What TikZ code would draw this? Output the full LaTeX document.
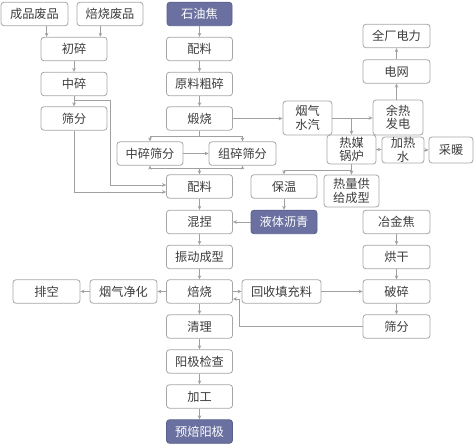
\documentclass[tikz,border=0pt]{standalone}
\usepackage{fontspec}
\setmainfont{Noto Sans CJK SC}
\usetikzlibrary{arrows.meta}
\definecolor{boxc}{HTML}{A6A6A6}
\definecolor{linec}{HTML}{A0A0A0}
\definecolor{txtc}{HTML}{3C3C3C}
\definecolor{fillc}{HTML}{6A71A0}
\definecolor{filld}{HTML}{5A6090}
\tikzset{
  box/.style={draw=boxc, rounded corners=3pt, line width=0.8pt, minimum width=66pt, minimum height=23.5pt, inner sep=0pt, text=txtc, font=\fontsize{12.2}{13.5}\selectfont, align=center},
  dbox/.style={box, fill=fillc, draw=filld, text=white},
  arr/.style={draw=linec, line width=0.7pt, -{Stealth[length=4pt,width=3.6pt]}},
  ln/.style={draw=linec, line width=0.7pt}
}
\begin{document}
\begin{tikzpicture}[x=1pt,y=-1pt]
\useasboundingbox (0,0) rectangle (474,446);
% left column
\node[box, minimum width=67pt] (cp) at (34.5,14) {成品废品};
\node[box] (bp) at (110,14) {焙烧废品};
\node[box] (cs) at (74,49) {初碎};
\node[box] (zs) at (74,84) {中碎};
\node[box] (sf1) at (74,118.5) {筛分};
% main column
\node[dbox, minimum width=65pt] (syj) at (199.5,14) {石油焦};
\node[box] (pl1) at (199.5,49) {配料};
\node[box] (ylcs) at (199.5,84) {原料粗碎};
\node[box] (ds) at (199.5,118.5) {煅烧};
\node[box] (zssf) at (150,153.5) {中碎筛分};
\node[box, minimum width=67pt] (zusf) at (242.5,153.5) {组碎筛分};
\node[box] (pl2) at (199.5,186.5) {配料};
\node[box] (hn) at (199.5,222) {混捏};
\node[box] (zdcx) at (199.5,257) {振动成型};
\node[box] (bs) at (199.5,291.5) {焙烧};
\node[box] (ql) at (199.5,326.5) {清理};
\node[box] (yjjc) at (199.5,361.5) {阳极检查};
\node[box] (jg) at (199.5,396.5) {加工};
\node[dbox] (ybyj) at (199.5,431.5) {预焙阳极};
\node[box, minimum width=67pt] (pk) at (46.5,291.5) {排空};
\node[box, minimum width=67pt] (yqjh) at (123.5,291.5) {烟气净化};
% right side
\node[box, minimum width=79pt] (hstcl) at (281.5,291.5) {回收填充料};
\node[box, minimum width=67pt] (ps) at (396.5,291.5) {破碎};
\node[box, minimum width=67pt] (sf2) at (396.5,326.5) {筛分};
\node[box, minimum width=67pt] (hg) at (396.5,257) {烘干};
\node[box, minimum width=67pt] (yjj) at (396.5,222) {冶金焦};
\node[box, minimum width=49pt, minimum height=34pt] (yq) at (307.5,118) {烟气\\水汽};
\node[box, minimum width=50pt, minimum height=35pt] (yr) at (398,117.5) {余热\\发电};
\node[box, minimum width=67pt] (dw) at (396.5,71.5) {电网};
\node[box, minimum width=67pt] (qc) at (396.5,36) {全厂电力};
\node[box, minimum width=49pt, minimum height=29pt] (rm) at (351.5,149.5) {热媒\\锅炉};
\node[box, minimum width=42pt, minimum height=26pt] (jrs) at (403,150) {加热\\水};
\node[box, minimum width=44pt, minimum height=26pt] (cn) at (451,150) {采暖};
\node[box] (bw) at (284,186.5) {保温};
\node[box, minimum width=55pt, minimum height=32pt] (rlgj) at (351.5,191) {热量供\\给成型};
\node[dbox] (ltlq) at (284,222) {液体沥青};
% coordinates
\coordinate (zsb) at (74,100);
\coordinate (ds1) at (199.5,136.5);
\coordinate (m1) at (199.5,168.5);
\coordinate (rm1) at (351.5,170);
% left connectors
\draw[arr] ([xshift=6pt]cs.north west |- cp.south) -- ([xshift=6pt]cs.north west);
\draw[arr] ([xshift=-7pt]cs.north east |- bp.south) -- ([xshift=-7pt]cs.north east);
\draw[arr] (cs) -- (zs);
\draw[arr] (zs) -- (sf1);
\draw[arr] (zsb) -| ([xshift=-56pt,yshift=1.5pt]pl2.west) -- ([yshift=1.5pt]pl2.west);
\draw[arr] (sf1.south) |- ([yshift=-5.5pt]pl2.west);
% main column connectors
\draw[arr] (syj) -- (pl1);
\draw[arr] (pl1) -- (ylcs);
\draw[arr] (ylcs) -- (ds);
\draw[ln] (ds.south) -- (ds1);
\draw[arr] (ds1) -| (zssf.north);
\draw[arr] (ds1) -| (zusf.north);
\draw[arr] (zssf) -- (zusf);
\draw[arr] (m1) -| (zssf.south);
\draw[arr] (m1) -| (zusf.south);
\draw[arr] (m1) -- (pl2.north);
\draw[arr] (pl2) -- (hn);
\draw[arr] (hn) -- (zdcx);
\draw[arr] (zdcx) -- (bs);
\draw[arr] (bs) -- (ql);
\draw[arr] (ql) -- (yjjc);
\draw[arr] (yjjc) -- (jg);
\draw[arr] (jg) -- (ybyj);
\draw[arr] (bs) -- (yqjh);
\draw[arr] (yqjh) -- (pk);
\draw[arr] (ltlq) -- (hn);
% right connectors
\draw[arr] (bs.east) -- (hstcl.west);
\draw[arr] (hstcl) -- (ps);
\draw[arr] (yjj) -- (hg);
\draw[arr] (hg) -- (ps);
\draw[arr] (ps) -- (sf2);
\draw[arr] (sf2.west) -| ([xshift=6pt,yshift=-7.5pt]bs.east) -- ([yshift=-7.5pt]bs.east);
\draw[arr] (ds.east) -- (ds.east -| yq.west);
\draw[arr] (yq.east) -- (yq.east -| yr.west);
\draw[arr] (rm.north |- yq.east) -- (rm.north);
\draw[arr] (dw.south |- yr.north) -- (dw.south);
\draw[arr] (dw) -- (qc);
\draw[arr] (rm.east) -- (rm.east -| jrs.west);
\draw[arr] (jrs) -- (cn);
\draw[ln] (rm.south) -- (rm1);
\draw[arr] (rm1) -| (bw.north);
\draw[arr] (rm1) -- (rlgj.north);
\draw[arr] (bw) -- (ltlq);
\end{tikzpicture}
\end{document}
